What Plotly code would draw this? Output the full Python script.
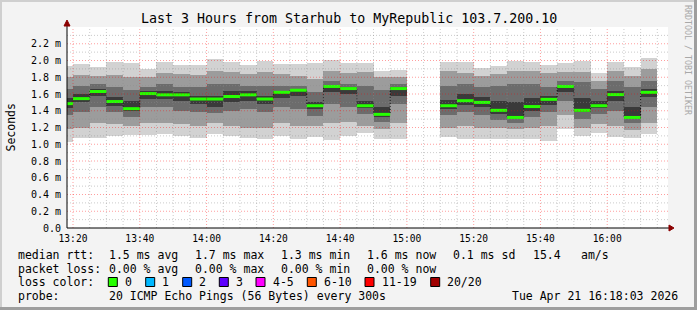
import plotly.graph_objects as go
import pandas as pd

# ---------------- data (ms) ----------------
end_times = [
    "2026-04-21 13:20", "2026-04-21 13:25", "2026-04-21 13:30", "2026-04-21 13:35",
    "2026-04-21 13:40", "2026-04-21 13:45", "2026-04-21 13:50", "2026-04-21 13:55",
    "2026-04-21 14:00", "2026-04-21 14:05", "2026-04-21 14:10", "2026-04-21 14:15",
    "2026-04-21 14:20", "2026-04-21 14:25", "2026-04-21 14:30", "2026-04-21 14:35",
    "2026-04-21 14:40", "2026-04-21 14:45", "2026-04-21 14:50", "2026-04-21 14:55",
    "2026-04-21 15:00", "2026-04-21 15:05", "2026-04-21 15:10", "2026-04-21 15:15",
    "2026-04-21 15:20", "2026-04-21 15:25", "2026-04-21 15:30", "2026-04-21 15:35",
    "2026-04-21 15:40", "2026-04-21 15:45", "2026-04-21 15:50", "2026-04-21 15:55",
    "2026-04-21 16:00", "2026-04-21 16:05", "2026-04-21 16:10", "2026-04-21 16:15",
]
median_ms = [1.485, 1.545, 1.63, 1.51, 1.425, 1.605, 1.59, 1.59, 1.54, 1.54, 1.57, 1.59,
             1.54, 1.62, 1.645, 1.46, 1.69, 1.665, 1.46, 1.357, 1.665, None, None, 1.46,
             1.52, 1.50, 1.405, 1.32, 1.45, 1.536, 1.69, 1.405, 1.46, 1.593, 1.32, 1.62]
min_ms = [1.03, 1.07, 1.07, 1.10, 1.11, 1.11, 1.125, 1.095, 1.075, 1.125, 1.095, 1.075,
          1.06, 1.095, 1.06, 1.085, 1.045, 1.095, 1.14, 1.06, 1.06, None, None, 1.085,
          1.06, 1.06, 1.06, 1.06, 1.06, 1.035, 1.18, 1.10, 1.14, 1.085, 1.07, 1.125]
p10_ms = [1.18, 1.20, 1.25, 1.24, 1.22, 1.25, 1.25, 1.24, 1.22, 1.25, 1.22, 1.20,
          1.20, 1.25, 1.22, 1.22, 1.25, 1.26, 1.22, 1.18, 1.25, None, None, 1.20,
          1.22, 1.20, 1.20, 1.18, 1.20, 1.22, 1.35, 1.20, 1.24, 1.22, 1.17, 1.25]
p25_ms = [1.35, 1.38, 1.45, 1.38, 1.33, 1.45, 1.44, 1.40, 1.38, 1.37, 1.40, 1.42,
          1.38, 1.45, 1.42, 1.34, 1.48, 1.45, 1.36, 1.27, 1.48, None, None, 1.35,
          1.38, 1.35, 1.29, 1.25, 1.32, 1.38, 1.52, 1.30, 1.36, 1.40, 1.25, 1.45]
p40_ms = [1.43, 1.50, 1.58, 1.46, 1.40, 1.54, 1.54, 1.52, 1.48, 1.45, 1.50, 1.52,
          1.48, 1.55, 1.58, 1.42, 1.62, 1.60, 1.43, 1.33, 1.58, None, None, 1.42,
          1.47, 1.45, 1.36, 1.30, 1.40, 1.47, 1.62, 1.38, 1.43, 1.52, 1.30, 1.56]
p60_ms = [1.55, 1.60, 1.66, 1.57, 1.52, 1.63, 1.63, 1.62, 1.58, 1.58, 1.63, 1.63,
          1.58, 1.64, 1.66, 1.50, 1.70, 1.68, 1.52, 1.45, 1.68, None, None, 1.53,
          1.60, 1.56, 1.52, 1.50, 1.55, 1.58, 1.70, 1.55, 1.52, 1.64, 1.45, 1.66]
p75_ms = [1.66, 1.70, 1.72, 1.68, 1.65, 1.68, 1.72, 1.68, 1.68, 1.72, 1.72, 1.70,
          1.70, 1.70, 1.70, 1.62, 1.76, 1.72, 1.70, 1.65, 1.72, None, None, 1.70,
          1.72, 1.68, 1.70, 1.72, 1.72, 1.68, 1.76, 1.74, 1.66, 1.76, 1.68, 1.76]
p90_ms = [1.80, 1.83, 1.82, 1.83, 1.80, 1.80, 1.85, 1.84, 1.83, 1.88, 1.86, 1.84,
          1.86, 1.84, 1.82, 1.78, 1.88, 1.85, 1.86, 1.80, 1.80, None, None, 1.88,
          1.85, 1.82, 1.84, 1.88, 1.87, 1.85, 1.86, 1.86, 1.76, 1.88, 1.82, 1.90]
max_ms = [1.93, 1.96, 1.925, 1.98, 1.97, 1.90, 1.98, 1.95, 1.945, 2.02, 1.985, 1.95,
          1.99, 1.96, 1.96, 1.965, 2.01, 1.97, 1.97, 1.87, 1.89, None, None, 1.98,
          1.98, 1.91, 1.93, 2.00, 1.98, 1.95, 1.965, 1.99, 1.845, 1.98, 1.925, 2.03]

y_tick_vals = [0.0, 0.2, 0.4, 0.6, 0.8, 1.0, 1.2, 1.4, 1.6, 1.8, 2.0, 2.2]
y_tick_text = ["0.0", "0.2 m", "0.4 m", "0.6 m", "0.8 m", "1.0 m", "1.2 m", "1.4 m",
               "1.6 m", "1.8 m", "2.0 m", "2.2 m"]
x_tick_vals = ["2026-04-21 13:20", "2026-04-21 13:40", "2026-04-21 14:00", "2026-04-21 14:20",
               "2026-04-21 14:40", "2026-04-21 15:00", "2026-04-21 15:20", "2026-04-21 15:40",
               "2026-04-21 16:00"]
x_tick_text = ["13:20", "13:40", "14:00", "14:20", "14:40", "15:00", "15:20", "15:40", "16:00"]

# ---------------- layout geometry ----------------
W, H = 697, 310
L, R, T, B = 67, 29, 27, 82
PW, PH = W - L - R, H - T - B
FONT = "DejaVu Sans Mono"
STEP = pd.Timedelta(minutes=5)


def px(xp):
    return (xp - L) / PW


def py(yp):
    return (H - B - yp) / PH


ends = pd.to_datetime(pd.Series(end_times))
valid = [i for i, m in enumerate(median_ms) if m is not None]
centers = [ends[i] - STEP / 2 for i in valid]

fig = go.Figure()

bands = [
    (min_ms, max_ms, "#d2d2d2"),
    (p10_ms, p90_ms, "#9c9c9c"),
    (p25_ms, p75_ms, "#6c6c6c"),
    (p40_ms, p60_ms, "#3a3a3a"),
]
for lo, hi, col in bands:
    fig.add_trace(go.Bar(
        x=centers,
        base=[lo[i] for i in valid],
        y=[hi[i] - lo[i] for i in valid],
        width=STEP.total_seconds() * 1000,
        marker=dict(color=col, line=dict(width=0)),
        hoverinfo="skip",
    ))

# dotted dark median step line
dx, dy = [], []
prev = None
for i in valid:
    if prev is not None and i != prev + 1:
        dx.append(ends[prev]); dy.append(median_ms[prev])
        dx.append(None); dy.append(None)
    dx.append(ends[i] - STEP); dy.append(median_ms[i])
    prev = i
dx.append(ends[prev]); dy.append(median_ms[prev])
fig.add_trace(go.Scatter(x=dx, y=dy, mode="lines", line=dict(color="#111111", width=1, shape="hv", dash="1px,2px"),
                         hoverinfo="skip"))

# green median segments (loss 0)
gx, gy = [], []
for i in valid:
    gx += [ends[i] - STEP, ends[i], None]
    gy += [median_ms[i], median_ms[i], None]
fig.add_trace(go.Scatter(x=gx, y=gy, mode="lines", line=dict(color="#26ff00", width=3),
                         hoverinfo="skip"))

x0 = pd.Timestamp("2026-04-21 13:18:12")
x1 = pd.Timestamp("2026-04-21 16:18:12")
YMAX = 2.4

shapes = []
MINOR = "rgba(140,140,140,0.45)"
MAJOR = "rgba(255,0,0,0.38)"
DASH = "1px,2px"
# vertical grid
t = pd.Timestamp("2026-04-21 13:20")
while t < x1:
    major = (t.minute % 20 == 0)
    shapes.append(dict(type="line", xref="x", yref="paper", x0=t, x1=t, y0=0, y1=1,
                       line=dict(color=MAJOR if major else MINOR, width=1, dash=DASH), layer="above"))
    t += STEP
# horizontal grid
for k in range(1, 24):
    v = k / 10
    major = (k % 2 == 0)
    shapes.append(dict(type="line", xref="paper", yref="y", x0=0, x1=1, y0=v, y1=v,
                       line=dict(color=MAJOR if major else MINOR, width=1, dash=DASH), layer="above"))

# axis extensions and arrows
AX = "#000000"
ARROW = "#8b0000"
shapes.append(dict(type="line", xref="paper", yref="paper", x0=0, x1=px(670), y0=0, y1=0,
                   line=dict(color=AX, width=1), layer="above"))
shapes.append(dict(type="line", xref="paper", yref="paper", x0=0, x1=0, y0=0, y1=py(24),
                   line=dict(color=AX, width=1), layer="above"))
shapes.append(dict(type="path", xref="paper", yref="paper",
                   path=f"M {px(669)},{py(225)} L {px(674)},{py(228)} L {px(669)},{py(231)} Z",
                   fillcolor=ARROW, line=dict(color=ARROW, width=1), layer="above"))
shapes.append(dict(type="path", xref="paper", yref="paper",
                   path=f"M {px(64)},{py(26)} L {px(67)},{py(20)} L {px(70)},{py(26)} Z",
                   fillcolor=ARROW, line=dict(color=ARROW, width=1), layer="above"))

# outer 3D border
shapes.append(dict(type="line", xref="paper", yref="paper", x0=px(0), x1=px(W), y0=py(1), y1=py(1),
                   line=dict(color="#cfcfcf", width=2), layer="above"))
shapes.append(dict(type="line", xref="paper", yref="paper", x0=px(1), x1=px(1), y0=py(0), y1=py(H),
                   line=dict(color="#cfcfcf", width=2), layer="above"))
shapes.append(dict(type="line", xref="paper", yref="paper", x0=px(0), x1=px(W), y0=py(H - 1.5), y1=py(H - 1.5),
                   line=dict(color="#9e9e9e", width=3), layer="above"))
shapes.append(dict(type="line", xref="paper", yref="paper", x0=px(W - 1.5), x1=px(W - 1.5), y0=py(0), y1=py(H),
                   line=dict(color="#9e9e9e", width=3), layer="above"))

# loss colour boxes
loss_labels = ["0", "1", "2", "3", "4-5", "6-10", "11-19", "20/20"]
loss_colors = ["#26ff00", "#00b8ff", "#0059ff", "#5e00ff", "#ff00ff", "#ff5500", "#ff0000", "#a10000"]
box_x = [108.3, 145.7, 182.7, 219.3, 256.0, 307.3, 365.0, 430.7]
for bxp, col in zip(box_x, loss_colors):
    shapes.append(dict(type="rect", xref="paper", yref="paper", x0=px(bxp), x1=px(bxp + 9),
                       y0=py(286.5), y1=py(277.5), fillcolor=col, line=dict(color="#000000", width=1),
                       layer="above"))

ann = []


def text(xp, yp, s, size=11.5, anchor="left", color="#000000"):
    ann.append(dict(x=px(xp), y=py(yp), xref="paper", yref="paper", text=s, showarrow=False,
                    xanchor=anchor, yanchor="middle", font=dict(family=FONT, size=size, color=color)))


text(W / 2, 19, "Last 3 Hours from Starhub to MyRepublic 103.7.200.10", size=13.3, anchor="center")
# legend rows
text(16, 254.5, "median rtt:")
for xp, s in zip([107.3, 193.3, 279.3, 365, 451, 530.7, 579.3],
                 ["1.5 ms avg", "1.7 ms max", "1.3 ms min", "1.6 ms now", "0.1 ms sd", "15.4", "am/s"]):
    text(xp, 254.5, s)
text(16, 268.5, "packet loss:")
for xp, s in zip([107.3, 193.3, 279.3, 365], ["0.00 % avg", "0.00 % max", "0.00 % min", "0.00 % now"]):
    text(xp, 268.5, s)
text(16, 282, "loss color:")
for bxp, s in zip(box_x, loss_labels):
    text(bxp + 14.5, 282, s)
text(16, 296.3, "probe:")
text(107.3, 296.3, "20 ICMP Echo Pings (56 Bytes) every 300s")
text(680, 296.3, "Tue Apr 21 16:18:03 2026", anchor="right")

ann.append(dict(x=px(10), y=0.5, xref="paper", yref="paper", text="Seconds", showarrow=False,
                textangle=-90, xanchor="center", yanchor="middle", font=dict(family=FONT, size=11.5, color="#000")))
ann.append(dict(x=px(688), y=py(60), xref="paper", yref="paper", text="RRDTOOL / TOBI OETIKER", showarrow=False,
                textangle=90, xanchor="center", yanchor="middle", font=dict(family=FONT, size=8.3, color="#a8a8a8")))

fig.update_layout(
    width=W, height=H,
    margin=dict(l=L, r=R, t=T, b=B, pad=0),
    paper_bgcolor="#f3f3f3",
    plot_bgcolor="#ffffff",
    barmode="overlay",
    bargap=0,
    showlegend=False,
    shapes=shapes,
    annotations=ann,
    font=dict(family=FONT, size=10, color="#000000"),
    xaxis=dict(type="date", range=[x0, x1], showgrid=False, zeroline=False, showline=False,
               tickvals=x_tick_vals, ticktext=x_tick_text, ticks="", ticklabelstandoff=3,
               tickfont=dict(family=FONT, size=9.6, color="#000")),
    yaxis=dict(range=[0, YMAX], showgrid=False, zeroline=False, showline=False,
               tickvals=y_tick_vals, ticktext=y_tick_text, ticks="", ticklabelstandoff=5,
               tickfont=dict(family=FONT, size=10, color="#000")),
)

fig.write_html("out.html")
